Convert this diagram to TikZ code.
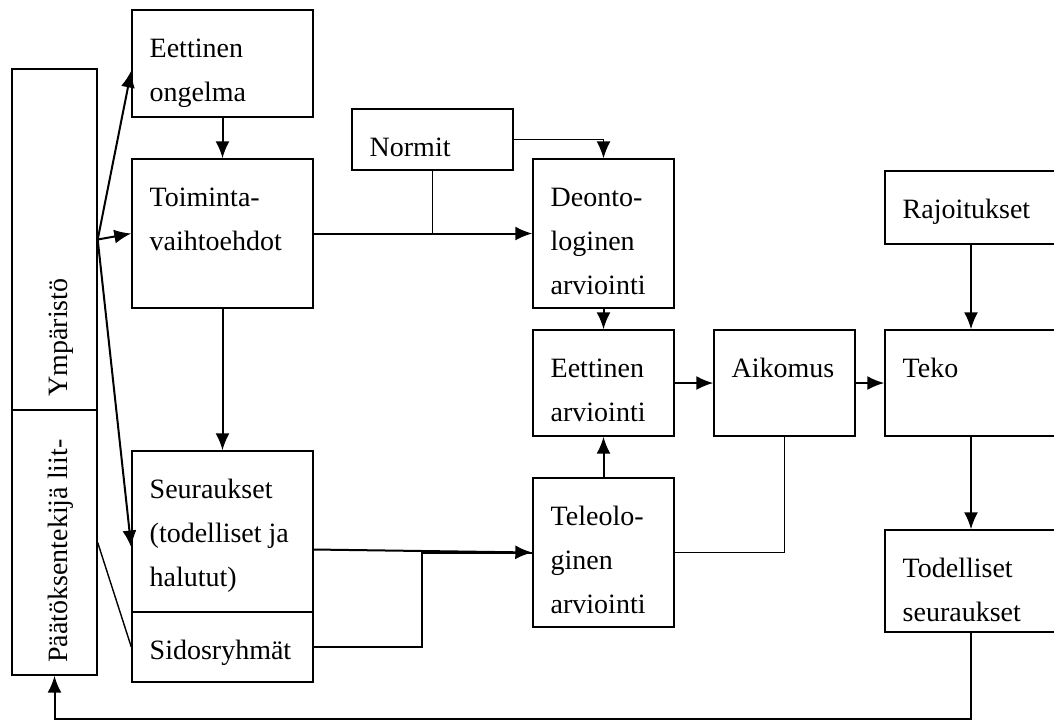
\documentclass[tikz,border=0pt]{standalone}
\usepackage{fontspec}
\setmainfont{Liberation Serif}
\usetikzlibrary{arrows.meta}
\usetikzlibrary{fit}
\tikzset{>={Latex[width=7pt,length=8.5pt]}}
\tikzset{laatikko/.style={draw, line width=0.7pt, inner sep=0pt},
  teksti/.style={anchor=base west, align=left, inner sep=0pt, font=\fontsize{14}{22}\selectfont},
  nuoli/.style={line width=1pt},
  ohut/.style={line width=0.7pt}}

\begin{document}
\begin{tikzpicture}[x=0.5pt,y=-0.5pt]
  \useasboundingbox (0,0) rectangle (1054,720);
  \clip (0,0) rectangle (1054,720);
  % Draw boxes
  \node[laatikko, fit={(12,69) (97,410)}] (ymparisto) {};
  \node[laatikko, fit={(12,410) (97,675)}] (paattaja) {};
  \node[laatikko, fit={(132,10) (313,117)}] (ongelma) {};
  \node[laatikko, fit={(132,159) (313,308)}] (toiminta) {};
  \node[laatikko, fit={(132,451) (313,612)}] (seuraukset) {};
  \node[laatikko, fit={(132,612) (313,682)}] (sidos) {};
  \node[laatikko, fit={(352,109) (513,170)}] (normit) {};
  \node[laatikko, fit={(533,159) (674,308)}] (deonto) {};
  \node[laatikko, fit={(533,330) (674,436)}] (eettinen) {};
  \node[laatikko, fit={(533,478) (674,627)}] (teleo) {};
  \node[laatikko, fit={(714,330) (855,436)}] (aikomus) {};
  \node[laatikko, fit={(885,171) (1057,244)}] (rajoitukset) {};
  \node[laatikko, fit={(885,330) (1057,436)}] (teko) {};
  \node[laatikko, fit={(885,530) (1057,632)}] (todelliset) {};
  % Texts, first baseline 24pt below the top edge (base = last line)
  \foreach \nimi/\rivit/\sisalto in {ongelma/2/{Eettinen\\ongelma},
      toiminta/2/{Toiminta-\\vaihtoehdot},
      seuraukset/3/{Seuraukset\\(todelliset ja\\halutut)},
      sidos/1/{Sidosryhmät}, normit/1/{Normit},
      deonto/3/{Deonto-\\loginen\\arviointi},
      eettinen/2/{Eettinen\\arviointi},
      teleo/3/{Teleolo-\\ginen\\arviointi},
      aikomus/1/{Aikomus}, rajoitukset/1/{Rajoitukset}, teko/1/{Teko},
      todelliset/2/{Todelliset\\seuraukset}}
    \node[teksti] (\nimi-t) at ([shift={(9pt,{-2pt-22pt*\rivit})}]\nimi.north west) {\sisalto};
  \node[teksti, rotate=90] (ymparisto-t) at (67,397) {Ympäristö};
  \node[teksti, rotate=90] (paattaja-t) at (67,663) {Päätöksentekijä liit-};
  % Draw connections
  \draw[->, nuoli] (ymparisto.east) -- ([yshift=-3.5pt]ongelma.west);
  \draw[->, nuoli] (ymparisto.east) -- (toiminta.west);
  \draw[->, nuoli] (ymparisto.east) -- ([yshift=-8pt]seuraukset.west);
  \draw[ohut] (paattaja.east) -- (sidos.west);
  \draw[->, nuoli] (ongelma) -- (toiminta);
  \draw[->, nuoli] (toiminta) -- (seuraukset);
  \draw[->, nuoli] (toiminta) -- (deonto);
  \draw[ohut] (normit.south) -- (normit.south |- toiminta.east);
  \draw[->, ohut] (normit.east) -| (deonto.north);
  \draw[->, nuoli] (deonto) -- (eettinen);
  \draw[->, nuoli] (teleo) -- (eettinen);
  \draw[->, nuoli] (eettinen) -- (aikomus);
  \draw[->, nuoli] (aikomus) -- (teko);
  \draw[->, nuoli] (rajoitukset) -- (teko);
  \draw[->, nuoli] (teko) -- (todelliset);
  \draw[ohut] (aikomus.south) |- (teleo.east);
  \draw[->, nuoli] ([yshift=-9pt]seuraukset.east) -- (teleo.west);
  \draw[nuoli] (sidos.east) -| ([xshift=-55pt]teleo.west) -- (teleo.west);
  % Feedback to the decision maker
  \draw[->, nuoli] (todelliset.south) -- ++(0,86) -| (paattaja.south);
\end{tikzpicture}
\end{document}
